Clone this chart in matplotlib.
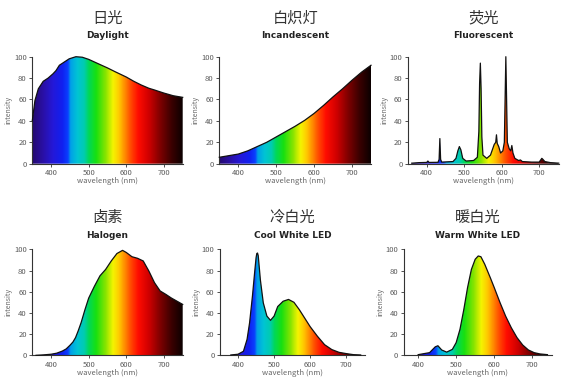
import matplotlib
matplotlib.use("Agg")
import matplotlib.pyplot as plt
import numpy as np
from matplotlib.colors import LinearSegmentedColormap, Normalize
from matplotlib.patches import Polygon

plt.rcParams["font.family"] = ["Noto Sans CJK SC", "DejaVu Sans"]

# ---- data ----
daylight_wl = [350, 357, 366, 379, 392, 405, 413, 422, 435, 448, 466, 483, 500,
               528, 550, 570, 600, 620, 640, 660, 674, 700, 725, 750]
daylight_i = [40, 59, 70, 77, 80, 84, 87, 92, 95, 98, 100, 99.5, 97.5,
              93, 89.5, 86, 81, 77, 73.5, 70.5, 69, 66, 63.5, 62]

incand_wl = [350, 375, 400, 425, 450, 475, 500, 525, 550, 575, 600, 625, 650,
             675, 700, 725, 750]
incand_i = [6, 7.5, 9, 12, 16, 20, 25, 30, 35, 40.5, 47, 54.5, 62.5, 70, 78, 85.5, 92]

fluor_wl = [360, 380, 400, 403, 406, 430, 433, 435, 437, 440, 470, 478, 483, 487,
            491, 496, 505, 525, 535, 539, 541, 543, 545, 547, 550, 560, 570, 576,
            580, 584, 586, 588, 592, 597, 603, 607, 609, 611, 613, 615, 620, 624,
            627, 630, 635, 645, 650, 655, 680, 700, 707, 710, 715, 730, 752]
fluor_i = [0.5, 1, 1.2, 2.5, 1.2, 1.3, 4, 23.5, 4, 1.5, 2, 5, 12, 16,
           13, 5, 2.5, 3, 6, 30, 75, 94, 70, 25, 8, 5, 8, 14,
           18, 20, 27, 19, 16, 10, 12, 20, 60, 100, 60, 20, 14, 12,
           17, 10, 5, 3, 3.5, 2, 1.5, 1.5, 5, 4, 2, 1, 0.5]

halogen_wl = [360, 380, 400, 415, 430, 440, 450, 458, 465, 472, 480, 490, 500, 515,
              530, 545, 560, 575, 590, 600, 615, 630, 645, 660, 675, 690, 705,
              720, 735, 750]
halogen_i = [0, 0.4, 1, 2, 4, 6, 9.4, 12.5, 16.7, 23, 31, 43, 54, 65,
             75, 81, 89, 96, 99, 97, 93, 91.5, 89, 79.5, 68.5, 60.7, 57.5,
             54, 51, 48]

cool_wl = [380, 400, 415, 425, 432, 440, 446, 450, 452, 454, 456, 462, 470, 480,
           490, 500, 510, 525, 540, 555, 570, 585, 600, 620, 640, 660, 680,
           700, 720, 740]
cool_i = [0.3, 1, 3.8, 15, 30.6, 56, 78, 92, 96, 96.5, 94, 71, 49.5, 37,
          33, 37, 46, 51, 52.7, 50, 43, 35, 27, 18, 10, 5.4, 2.8,
          1.6, 0.6, 0.3]

warm_wl = [400, 430, 445, 452, 462, 475, 490, 500, 510, 520, 530, 540, 550, 558,
           565, 575, 590, 600, 615, 630, 645, 660, 675, 690, 705, 720, 740]
warm_i = [0.6, 2.5, 8, 9, 5, 3, 5.6, 12, 24.5, 43, 64, 81, 90.6, 93.7,
          93, 86, 73, 64, 50, 37, 26, 16.7, 9.7, 5, 2.5, 1.3, 0.6]

titles_cn = ["日光", "白炽灯", "荧光", "卤素", "冷白光", "暖白光"]
titles_en = ["Daylight", "Incandescent", "Fluorescent", "Halogen",
             "Cool White LED", "Warm White LED"]
series = [(daylight_wl, daylight_i), (incand_wl, incand_i), (fluor_wl, fluor_i),
          (halogen_wl, halogen_i), (cool_wl, cool_i), (warm_wl, warm_i)]
xticks = [400, 500, 600, 700]
yticks = [0, 20, 40, 60, 80, 100]

# visible-spectrum colours
spec_stops = [(350, "#24096e"), (380, "#2a10a8"), (405, "#2418d8"), (430, "#1020f0"),
              (445, "#0a40ff"), (452, "#00a0e8"), (470, "#00c4d4"), (488, "#00ccb0"),
              (500, "#00d85a"), (520, "#18e010"), (545, "#88e400"), (565, "#f4f400"),
              (580, "#ffcc00"), (595, "#ff9000"), (612, "#ff4a00"), (632, "#ff0c00"),
              (660, "#d00000"), (690, "#800000"), (720, "#3c0000"), (750, "#0c0000")]
spec_cmap = LinearSegmentedColormap.from_list(
    "spectrum", [((w - 350) / 400.0, c) for w, c in spec_stops])

fig = plt.figure(figsize=(5.67, 3.92), dpi=100)
fig.patch.set_facecolor("white")

# axes rects in pixels: left, right, y of 0, y of 100, title rows ; plus x limits
rects = [(32.3, 182.7, 163.7, 56.7, 18, 36, 350, 750),
         (219.3, 371.0, 163.7, 56.7, 18, 36, 350, 750),
         (408.0, 558.7, 163.7, 56.7, 18, 36, 350, 752),
         (32.3, 182.7, 355.3, 249.3, 217.7, 235, 350, 750),
         (220.0, 365.0, 355.3, 249.3, 217.7, 235, 350, 752),
         (403.7, 552.0, 355.3, 249.3, 217.7, 235, 362, 752)]

W, H = 567.0, 392.0
grad = np.linspace(350, 750, 800).reshape(1, -1)

for i, (wl, inten) in enumerate(series):
    l, r, y0, y1, ycn_px, yen_px, xa, xb = rects[i]
    ax = fig.add_axes([l / W, (H - y0) / H, (r - l) / W, (y0 - y1) / H])
    ax.set_xlim(xa, xb)
    ax.set_ylim(0, 100)

    im = ax.imshow(grad, extent=[350, 750, 0, 100], aspect="auto",
                   cmap=spec_cmap, norm=Normalize(350, 750), zorder=1)
    verts = [(wl[0], 0)] + list(zip(wl, inten)) + [(wl[-1], 0)]
    patch = Polygon(verts, closed=True, facecolor="none", edgecolor="none",
                    transform=ax.transData)
    ax.add_patch(patch)
    im.set_clip_path(patch)
    ax.plot(wl, inten, color="#111111", linewidth=0.9, zorder=3, clip_on=False)

    for s in ["top", "right"]:
        ax.spines[s].set_visible(False)
    for s in ["left", "bottom"]:
        ax.spines[s].set_color("#333333")
        ax.spines[s].set_linewidth(0.8)
    ax.set_xticks(xticks)
    ax.set_yticks(yticks)
    ax.tick_params(axis="both", length=2.5, width=0.6, color="#333333",
                   labelsize=5.5, labelcolor="#5a5a5a", pad=1.5)
    ax.set_xlabel("wavelength (nm)", fontsize=5.5, color="#666666", labelpad=0)
    ax.set_ylabel("intensity", fontsize=5, color="#666666", labelpad=1)

    h = y0 - y1
    ax.text(0.5, (y0 - ycn_px) / h, titles_cn[i], transform=ax.transAxes,
            ha="center", va="center", fontsize=11, color="#333333")
    ax.text(0.5, (y0 - yen_px) / h, titles_en[i], transform=ax.transAxes,
            ha="center", va="center", fontsize=6.5, fontweight="bold",
            color="#222222", family=["DejaVu Sans"])

fig.savefig("out.png", dpi=100)
